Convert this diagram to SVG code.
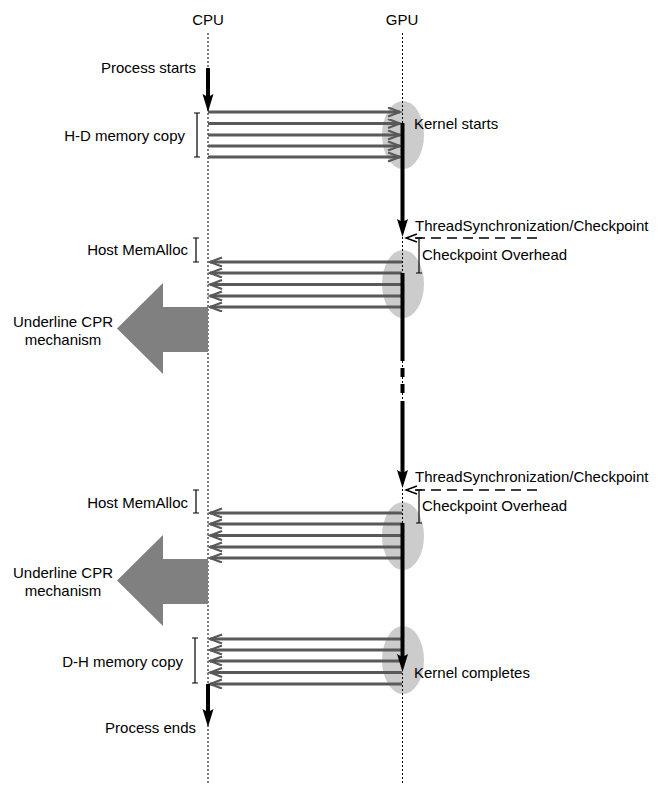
<svg xmlns="http://www.w3.org/2000/svg" width="665" height="785" viewBox="0 0 665 785">
<style>
text{font-family:"Liberation Sans",Arial,sans-serif;font-size:15px;fill:#000}
.life{stroke:#000;stroke-width:1;stroke-dasharray:2,2;fill:none}
.msg{stroke:#595959;stroke-width:3;fill:none}
.thick{stroke:#000;stroke-width:4;fill:none}
.br{stroke:#000;stroke-width:1.2;fill:none}
.ell{fill:#cccccc}
.big{fill:#808080}
.dash{stroke:#000;stroke-width:1.3;stroke-dasharray:10,6;fill:none}
</style>
<defs>
<marker id="oh" markerUnits="userSpaceOnUse" markerWidth="16" markerHeight="12" refX="13" refY="5" orient="auto">
<path d="M1,0.5 L13,5 L1,9.5" stroke="#595959" stroke-width="2.2" fill="none"/>
</marker>
<marker id="dh" markerUnits="userSpaceOnUse" markerWidth="14" markerHeight="12" refX="12" refY="5" orient="auto">
<path d="M1,1 L12,5 L1,9" stroke="#000" stroke-width="1.5" fill="none"/>
</marker>
</defs>
<g id="ellipses">
<ellipse class="ell" cx="403" cy="135" rx="21" ry="34"/>
<ellipse class="ell" cx="403" cy="284" rx="21" ry="34"/>
<ellipse class="ell" cx="403" cy="536" rx="21" ry="34"/>
<ellipse class="ell" cx="403" cy="660" rx="21" ry="34"/>
</g>
<g id="lifelines">
<text x="208" y="25" text-anchor="middle">CPU</text>
<text x="402" y="25" text-anchor="middle">GPU</text>
<line class="life" x1="208" y1="33" x2="208" y2="785"/>
<line class="life" x1="402.5" y1="33" x2="402.5" y2="785"/>
</g>
<g id="big-arrows">
<polygon class="big" points="208,307 163,307 163,283 117,328.5 163,374 163,352 208,352"/>
<polygon class="big" points="208,559 163,559 163,535 117,580.5 163,626 163,604 208,604"/>
</g>
<g id="connectors">
<!-- H-D memory copy -->
<line class="msg" x1="208" y1="112" x2="400" y2="112" marker-end="url(#oh)"/>
<line class="msg" x1="208" y1="123.5" x2="400" y2="123.5" marker-end="url(#oh)"/>
<line class="msg" x1="208" y1="135" x2="400" y2="135" marker-end="url(#oh)"/>
<line class="msg" x1="208" y1="146" x2="400" y2="146" marker-end="url(#oh)"/>
<line class="msg" x1="208" y1="157" x2="400" y2="157" marker-end="url(#oh)"/>
<!-- return 1 -->
<line class="msg" x1="402" y1="262" x2="210" y2="262" marker-end="url(#oh)"/>
<line class="msg" x1="402" y1="273" x2="210" y2="273" marker-end="url(#oh)"/>
<line class="msg" x1="402" y1="284.5" x2="210" y2="284.5" marker-end="url(#oh)"/>
<line class="msg" x1="402" y1="296" x2="210" y2="296" marker-end="url(#oh)"/>
<line class="msg" x1="402" y1="307" x2="210" y2="307" marker-end="url(#oh)"/>
<!-- return 2 -->
<line class="msg" x1="402" y1="513" x2="210" y2="513" marker-end="url(#oh)"/>
<line class="msg" x1="402" y1="524" x2="210" y2="524" marker-end="url(#oh)"/>
<line class="msg" x1="402" y1="535.5" x2="210" y2="535.5" marker-end="url(#oh)"/>
<line class="msg" x1="402" y1="547" x2="210" y2="547" marker-end="url(#oh)"/>
<line class="msg" x1="402" y1="558" x2="210" y2="558" marker-end="url(#oh)"/>
<!-- D-H memory copy -->
<line class="msg" x1="402" y1="639" x2="210" y2="639" marker-end="url(#oh)"/>
<line class="msg" x1="402" y1="650" x2="210" y2="650" marker-end="url(#oh)"/>
<line class="msg" x1="402" y1="661" x2="210" y2="661" marker-end="url(#oh)"/>
<line class="msg" x1="402" y1="672.5" x2="210" y2="672.5" marker-end="url(#oh)"/>
<line class="msg" x1="402" y1="684" x2="210" y2="684" marker-end="url(#oh)"/>
<!-- dashed checkpoint arrows -->
<line class="dash" x1="537" y1="238" x2="406" y2="238" marker-end="url(#dh)"/>
<line class="dash" x1="537" y1="490" x2="406" y2="490" marker-end="url(#dh)"/>
<!-- thick flow lines -->
<line class="thick" x1="208" y1="68" x2="208" y2="97"/>
<path d="M208,112 L202.5,94 L208,97 L213.5,94 Z" fill="#000"/>
<line class="thick" x1="402.5" y1="123" x2="402.5" y2="222"/>
<path d="M402.5,237 L397,219 L402.5,222 L408,219 Z" fill="#000"/>
<line class="thick" x1="402.5" y1="273" x2="402.5" y2="361"/>
<line class="thick" x1="402.5" y1="368" x2="402.5" y2="377"/>
<line class="thick" x1="402.5" y1="384" x2="402.5" y2="393"/>
<line class="thick" x1="402.5" y1="401" x2="402.5" y2="473"/>
<path d="M402.5,488 L397,470 L402.5,473 L408,470 Z" fill="#000"/>
<line class="thick" x1="402.5" y1="523" x2="402.5" y2="657"/>
<path d="M402.5,672 L397,654 L402.5,657 L408,654 Z" fill="#000"/>
<line class="thick" x1="208" y1="684" x2="208" y2="712"/>
<path d="M208,727 L202.5,709 L208,712 L213.5,709 Z" fill="#000"/>
</g>
<g id="brackets">
<path class="br" d="M197,113 V157 M194,113 H200 M194,157 H200"/>
<path class="br" d="M196,238 V262 M193,238 H199 M193,262 H199"/>
<path class="br" d="M419,238 V273 M416,238 H422 M416,273 H422"/>
<path class="br" d="M196,490 V513 M193,490 H199 M193,513 H199"/>
<path class="br" d="M419,490 V523 M416,490 H422 M416,523 H422"/>
<path class="br" d="M195,638 V683 M192,638 H198 M192,683 H198"/>
</g>
<g id="labels">
<text x="196" y="73" text-anchor="end">Process starts</text>
<text x="185" y="141" text-anchor="end">H-D memory copy</text>
<text x="414" y="129">Kernel starts</text>
<text x="415" y="231">ThreadSynchronization/Checkpoint</text>
<text x="422" y="260">Checkpoint Overhead</text>
<text x="188" y="255" text-anchor="end">Host MemAlloc</text>
<text x="63" y="327" text-anchor="middle">Underline CPR</text>
<text x="63" y="345" text-anchor="middle">mechanism</text>
<text x="415" y="482">ThreadSynchronization/Checkpoint</text>
<text x="422" y="511">Checkpoint Overhead</text>
<text x="188" y="508" text-anchor="end">Host MemAlloc</text>
<text x="63" y="578" text-anchor="middle">Underline CPR</text>
<text x="63" y="596" text-anchor="middle">mechanism</text>
<text x="183" y="667" text-anchor="end">D-H memory copy</text>
<text x="414" y="678">Kernel completes</text>
<text x="196" y="733" text-anchor="end">Process ends</text>
</g>
</svg>
